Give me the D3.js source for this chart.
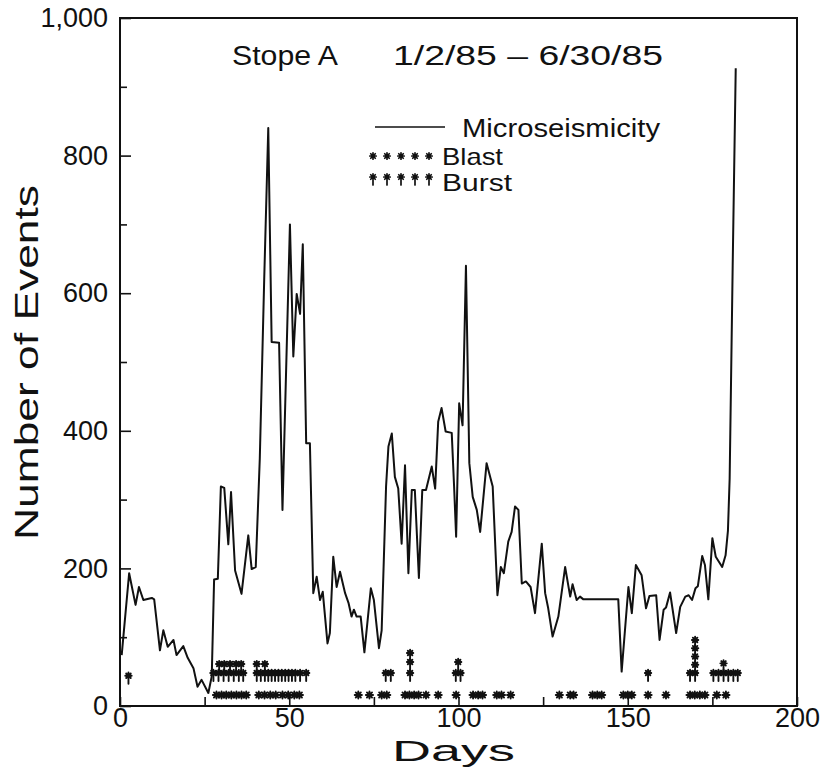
<!DOCTYPE html>
<html>
<head>
<meta charset="utf-8">
<script src="https://cdn.jsdelivr.net/npm/d3@7"></script>
<style>
  html, body { margin: 0; padding: 0; background: #fff; }
  svg { display: block; }
  text { font-family: "Liberation Sans", Arial, sans-serif; fill: #111; }
</style>
</head>
<body>
<svg id="chart" width="830" height="769"></svg>
<script>
// ---------------- data ----------------
const days = [0.5,2.7,4.6,5.6,6.9,9.4,10.1,11.8,12.8,14.1,15.8,16.7,18.7,20.0,21.7,22.9,24.1,26.1,27.1,27.8,
  28.9,29.8,30.8,32.0,32.8,34.0,35.9,37.9,38.9,40.1,41.3,42.6,43.8,44.8,47.0,48.0,50.2,51.2,52.2,53.2,
  54.0,55.0,56.1,57.1,58.1,59.1,59.9,61.3,62.0,63.0,64.0,65.0,66.5,67.5,68.4,69.1,69.9,71.1,72.2,74.1,
  75.0,76.5,77.3,78.6,79.3,80.3,81.2,82.2,83.2,84.2,85.2,86.2,87.1,88.3,89.3,90.4,92.1,93.1,94.0,95.0,
  96.2,98.0,98.7,99.3,100.2,101.2,102.2,103.2,104.2,105.4,106.4,108.3,110.1,111.5,112.5,113.4,114.7,115.7,116.7,117.7,
  118.7,119.9,121.3,122.6,124.6,125.6,126.5,127.8,129.5,131.5,133.0,133.7,134.9,135.9,136.9,147.2,148.2,150.2,151.2,152.4,
  154.1,155.4,156.4,158.4,159.4,160.6,161.3,162.5,164.3,165.5,167.0,168.0,169.0,170.0,170.7,172.0,172.8,173.8,175.0,176.0,
  177.9,178.9,179.6,180.1,181.0,181.9];
const events = [74,193,147,173,154,157,155,81,110,86,96,74,87,70,55,28,38,19,43,184,
  185,319,317,235,311,197,163,248,199,202,360,620,840,529,528,285,700,508,599,570,
  671,382,382,164,188,154,166,91,106,217,173,195,164,150,130,140,130,130,78,171,
  154,84,110,319,377,396,333,316,236,350,193,314,314,186,314,314,348,316,413,433,
  399,397,319,246,440,408,640,353,304,285,253,353,319,161,202,193,239,253,290,285,
  178,181,173,135,236,164,142,101,130,202,159,177,154,159,155,155,50,173,135,205,
  190,142,160,161,96,140,143,165,106,144,159,161,154,171,174,218,205,155,244,217,
  202,219,255,330,640,927];

const blastDays = [28.5,30,31.4,32.9,34.4,35.9,37.3, 41,42.7,44.4,46, 48,49.7,51.5,53,
  70.4,73.7,77.3,78.8, 84.2,85.5,86.9,88.2,90.4,94,99.3,
  104.3,105.8,107.1,111.3,112.7,115.4,
  129.8,133,134,139.6,141,142.3,148.7,150,151.2,156,161.3,
  168.4,169.8,171.3,172.8,176.3,179];
const blastLevels = [16,16,16,16,16,16,16, 16,16,16,16, 16,16,16,16,
  16,16,16,16, 16,16,16,16,16,16,16,
  16,16,16,16,16,16,
  16,16,16,16,16,16,16,16,16,16,16,
  16,16,16,16,16,16];

const burstDays = [2.5,
  27.6,29.1,30.6,32.1,33.6,35.1,36.4,
  29.3,30.8,32.5,34.3,35.8,
  40.4,42.8,40.4,42.8,
  41.6,43.8,44.8,45.8,46.8,47.8,48.8,49.8,50.8,51.8,53.2,55.0,
  78.5,80.0,
  85.7,85.7,85.7,
  99.2,100.6,99.9,
  156.0,
  168.4,169.9,169.9,169.9,169.9,169.9,
  175.3,176.8,178.3,179.7,181.2,182.5,178.3];
const burstLevels = [44,
  48,48,48,48,48,48,48,
  61,61,61,61,61,
  48,48,61,61,
  48,48,48,48,48,48,48,48,48,48,48,48,
  48,48,
  48,64,77,
  48,48,64,
  48,
  48,48,60,72,84,96,
  48,48,48,48,48,48,62];

const yMajor = [0,200,400,600,800,1000];
const yMinor = [100,300,500,700,900];
const xMajor = [0,50,100,150,200];
const xMinor = [25,75,125,175];

// ---------------- layout ----------------
const svg = d3.select("#chart");
const L = 120, R = 797, T = 18, B = 706;
const x = d3.scaleLinear().domain([0,200]).range([L,R]);
const y = d3.scaleLinear().domain([0,1000]).range([B,T]);

// axes (ticks inside)
const gy = svg.append("g").attr("transform",`translate(${L},0)`)
  .call(d3.axisLeft(y).tickValues(yMajor).tickSize(-11).tickPadding(12).tickFormat(d3.format(",")));
const gy2 = svg.append("g").attr("transform",`translate(${L},0)`)
  .call(d3.axisLeft(y).tickValues(yMinor).tickSize(-7).tickFormat(""));
const gx = svg.append("g").attr("transform",`translate(0,${B})`)
  .call(d3.axisBottom(x).tickValues(xMajor).tickSize(-9).tickPadding(2));
const gx2 = svg.append("g").attr("transform",`translate(0,${B})`)
  .call(d3.axisBottom(x).tickValues(xMinor).tickSize(-9).tickFormat(""));
[gy,gy2,gx,gx2].forEach(g => {
  g.select(".domain").remove();
  g.selectAll("line").attr("stroke","#111").attr("stroke-width",1.6);
  g.selectAll("text").style("font-family","Liberation Sans, Arial, sans-serif").style("font-size","27px").attr("fill","#111");
});

// frame
svg.append("rect").attr("x",L).attr("y",T).attr("width",R-L).attr("height",B-T)
  .attr("fill","none").attr("stroke","#111").attr("stroke-width",2);

// line
const pts = days.map((d,i)=>[d,events[i]]);
svg.append("path").datum(pts)
  .attr("d", d3.line().x(d=>x(d[0])).y(d=>y(d[1])))
  .attr("fill","none").attr("stroke","#111").attr("stroke-width",2).attr("stroke-linejoin","round");

// markers
function asterisk(r){
  let p = "";
  [0,45,90,135].forEach(a=>{
    const t = a*Math.PI/180, dx = r*Math.cos(t), dy = r*Math.sin(t);
    p += `M${-dx},${-dy}L${dx},${dy}`;
  });
  return p;
}
function dagger(){
  return asterisk(3.2) + "M0,0L0,8";
}
const gm = svg.append("g").attr("stroke","#111").attr("fill","none").attr("stroke-linecap","round");
gm.selectAll(".blast").data(blastDays.map((d,i)=>[d,blastLevels[i]])).join("path")
  .attr("class","blast")
  .attr("transform",d=>`translate(${x(d[0])},${y(d[1])})`)
  .attr("d",asterisk(3.6)).attr("stroke-width",1.9);
gm.selectAll(".burst").data(burstDays.map((d,i)=>[d,burstLevels[i]])).join("path")
  .attr("class","burst")
  .attr("transform",d=>`translate(${x(d[0])},${y(d[1])})`)
  .attr("d",dagger()).attr("stroke-width",1.9);

// title
svg.append("text").attr("x",232).attr("y",65).attr("font-size",27)
  .attr("textLength",106).attr("lengthAdjust","spacingAndGlyphs").text("Stope A");
svg.append("text").attr("x",393).attr("y",65).attr("font-size",27)
  .attr("textLength",270).attr("lengthAdjust","spacingAndGlyphs").text("1/2/85 \u2013 6/30/85");

// legend
svg.append("line").attr("x1",375).attr("x2",445).attr("y1",127).attr("y2",127)
  .attr("stroke","#111").attr("stroke-width",1.6);
svg.append("text").attr("x",462).attr("y",137).attr("font-size",26)
  .attr("textLength",198).attr("lengthAdjust","spacingAndGlyphs").text("Microseismicity");
const lg = svg.append("g").attr("stroke","#111").attr("fill","none").attr("stroke-linecap","round");
[0,1,2,3,4].forEach(i=>{
  lg.append("path").attr("transform",`translate(${373+i*14},156)`).attr("d",asterisk(3.2)).attr("stroke-width",1.7);
  lg.append("path").attr("transform",`translate(${373+i*14},177)`).attr("d",dagger()).attr("stroke-width",1.7);
});
svg.append("text").attr("x",442).attr("y",165).attr("font-size",24)
  .attr("textLength",61).attr("lengthAdjust","spacingAndGlyphs").text("Blast");
svg.append("text").attr("x",442).attr("y",191).attr("font-size",24)
  .attr("textLength",70).attr("lengthAdjust","spacingAndGlyphs").text("Burst");

// axis titles
svg.append("text").attr("x",392).attr("y",761).attr("font-size",30)
  .attr("textLength",123).attr("lengthAdjust","spacingAndGlyphs").text("Days");
svg.append("text").attr("transform","translate(38,540) rotate(-90)").attr("font-size",33)
  .attr("textLength",355).attr("lengthAdjust","spacingAndGlyphs").text("Number of Events");
</script>
</body>
</html>
